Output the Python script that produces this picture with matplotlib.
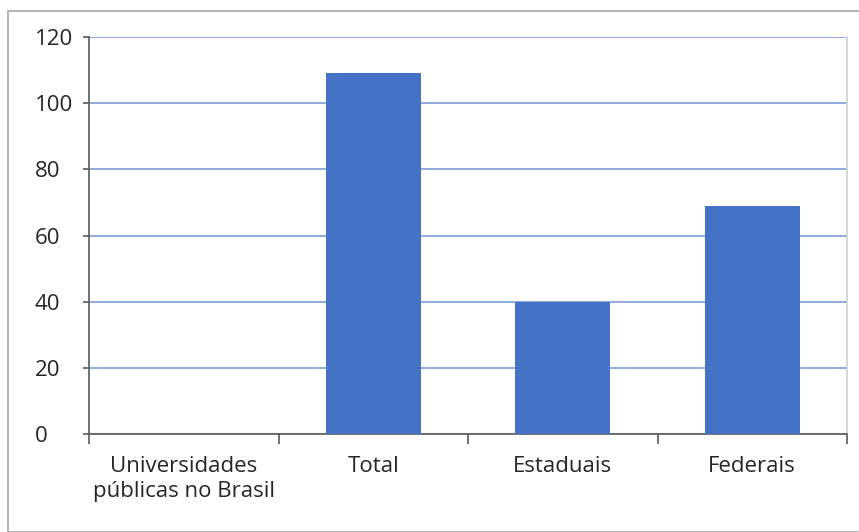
#!/usr/bin/env python3
"""Bar chart: universidades públicas no Brasil."""

import matplotlib
matplotlib.use("Agg")
import matplotlib.pyplot as plt
from matplotlib.patches import Rectangle
import numpy as np

categories = ["Universidades\npúblicas no Brasil", "Total", "Estaduais", "Federais"]
values = [0, 109, 40, 69]
y_ticks = [0, 20, 40, 60, 80, 100, 120]

plt.rcParams["font.family"] = ["Open Sans", "DejaVu Sans"]

fig = plt.figure(figsize=(8.59, 5.32), dpi=100)
ax = fig.add_axes([89 / 859, 98 / 532, 758 / 859, 397 / 532])

# outer chart border
fig.patches.append(Rectangle((8 / 859, 0), 1.0, 1 - 11 / 532, transform=fig.transFigure,
                             fill=False, edgecolor="#a6a6a6", linewidth=1.2))

x = np.arange(len(categories))
ax.bar(x, values, width=0.5, color="#4472C4", zorder=3)

ax.set_xlim(-0.5, len(categories) - 0.5)
ax.set_ylim(0, 120)
ax.set_yticks(y_ticks)
ax.set_xticks(x)
ax.set_xticklabels(categories, fontsize=16, color="#262626", linespacing=1.3)
ax.set_xticks(np.arange(len(categories) + 1) - 0.5, minor=True)
ax.tick_params(axis="x", which="major", length=0, pad=15.5)
ax.tick_params(axis="x", which="minor", length=7, width=1.2, color="#595959")
# Excel-style left-aligned value labels
ax.tick_params(axis="y", labelsize=16, labelcolor="#262626", length=4, width=1.2,
               color="#595959", pad=35)
for lab in ax.get_yticklabels():
    lab.set_horizontalalignment("left")

ax.grid(axis="y", color="#88a4dc", linewidth=1.3, zorder=0)
ax.set_axisbelow(True)

for side in ("left", "bottom"):
    ax.spines[side].set_color("#595959")
    ax.spines[side].set_linewidth(1.2)
ax.spines["top"].set_visible(False)
ax.spines["right"].set_color("#d0d0d0")
ax.spines["right"].set_linewidth(1.2)

fig.savefig("out.png", dpi=100)
